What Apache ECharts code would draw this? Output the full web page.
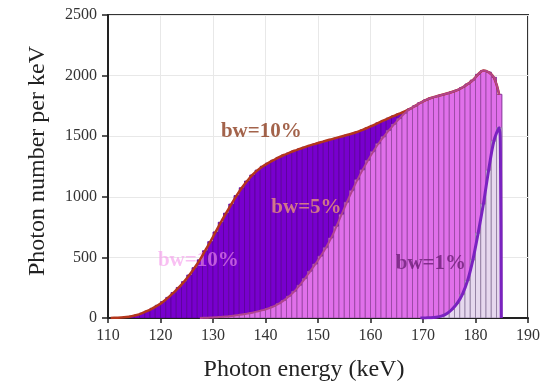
<!DOCTYPE html>
<html>
<head>
<meta charset="utf-8">
<script src="https://cdn.jsdelivr.net/npm/echarts@6/dist/echarts.min.js"></script>
<style>
html,body{margin:0;padding:0;background:#fff;}
#chart{width:550px;height:387px;}
</style>
</head>
<body>
<div id="chart"></div>
<script>
// Bin centres (keV), 1 keV wide bins
const energies = [
110.5,111.5,112.5,113.5,114.5,115.5,116.5,117.5,118.5,119.5,
120.5,121.5,122.5,123.5,124.5,125.5,126.5,127.5,128.5,129.5,
130.5,131.5,132.5,133.5,134.5,135.5,136.5,137.5,138.5,139.5,
140.5,141.5,142.5,143.5,144.5,145.5,146.5,147.5,148.5,149.5,
150.5,151.5,152.5,153.5,154.5,155.5,156.5,157.5,158.5,159.5,
160.5,161.5,162.5,163.5,164.5,165.5,166.5,167.5,168.5,169.5,
170.5,171.5,172.5,173.5,174.5,175.5,176.5,177.5,178.5,179.5,
180.5,181.5,182.5,183.5,184.5];

// Photon number per keV, bandwidth 10 %
const bw10 = [
0,2,4,8,15,25,40,58,80,105,
135,170,210,252,300,355,415,480,555,630,
710,790,865,940,1010,1075,1130,1180,1220,1252,
1278,1302,1325,1345,1362,1380,1395,1410,1424,1437,
1450,1462,1474,1486,1498,1510,1522,1536,1552,1570,
1590,1610,1630,1650,1668,1686,1704,1725,1750,1776,
1798,1815,1828,1840,1852,1865,1880,1902,1930,1962,
2010,2042,2028,1985,1845];

// bandwidth 5 %
const bw5 = [
0,0,0,0,0,0,0,0,0,0,
0,0,0,0,0,0,0,0,2,4,
6,9,12,17,22,28,36,44,54,65,
78,95,118,145,180,220,270,325,385,445,
510,580,660,755,855,955,1050,1140,1222,1300,
1372,1438,1495,1548,1598,1645,1690,1725,1750,1776,
1798,1815,1828,1840,1852,1865,1880,1902,1930,1962,
2010,2042,2028,1985,1845];

// bandwidth 1 %
const bw1 = [
0,0,0,0,0,0,0,0,0,0,
0,0,0,0,0,0,0,0,0,0,
0,0,0,0,0,0,0,0,0,0,
0,0,0,0,0,0,0,0,0,0,
0,0,0,0,0,0,0,0,0,0,
0,0,0,0,0,0,0,0,0,0,
1,2,6,15,35,70,120,195,310,480,
700,940,1220,1460,1570];
// sharp cut-off of the 1 % curve after its peak
const bw1Tail = [[184.75, 1350], [184.9, 0]];

const xTicks = [110,120,130,140,150,160,170,180,190];
const yTicks = [0,500,1000,1500,2000,2500];

// text annotations placed in data coordinates
const annotations = [
  {text:'bw=10%', at:[139.2,1536], color:'#8C3C1E'},
  {text:'bw=5%',  at:[147.8,912],  color:'#E8937A'},
  {text:'bw=1%',  at:[171.5,449],  color:'#6E1E78'},
  {text:'bw=10%', at:[127.2,474],  color:'rgba(245,150,235,0.75)'}
];

const FONT = "'Liberation Serif','Times New Roman',serif";

function barSeries(name, values, fill, stroke) {
  const data = [];
  energies.forEach((e, i) => { if (values[i] > 0) data.push([e, values[i]]); });
  return {
    type: 'custom', name: name, data: data, clip: true,
    renderItem: function (params, api) {
      const x = api.value(0), y = api.value(1);
      const p0 = api.coord([x - 0.5, y]);
      const p1 = api.coord([x + 0.5, 0]);
      return {
        type: 'rect',
        shape: {x: p0[0], y: p0[1], width: p1[0] - p0[0], height: p1[1] - p0[1]},
        style: {fill: fill, stroke: stroke, lineWidth: 0.8}
      };
    }
  };
}

function curve(values, fromIdx, extra) {
  const d = [];
  for (let i = fromIdx; i < energies.length; i++) d.push([energies[i], values[i]]);
  return d.concat(extra || []);
}

const chart = echarts.init(document.getElementById('chart'), null, {renderer: 'canvas'});
chart.setOption({
  animation: false,
  backgroundColor: '#ffffff',
  grid: {left: 108, right: 22, top: 15, bottom: 66, show: true, borderColor: '#333', borderWidth: 2},
  xAxis: {
    type: 'value', min: xTicks[0], max: xTicks[xTicks.length - 1], interval: 10,
    name: 'Photon energy (keV)', nameLocation: 'middle', nameGap: 40,
    nameTextStyle: {fontFamily: FONT, fontSize: 24, color: '#222', padding: [0, 28, 0, 0]},
    axisLine: {show: true, onZero: false, lineStyle: {color: '#222', width: 2}},
    axisTick: {show: true, length: 5, lineStyle: {color: '#222', width: 1.5}},
    axisLabel: {fontFamily: FONT, fontSize: 16, color: '#333', margin: 10},
    splitLine: {show: true, lineStyle: {color: '#e8e8e8', width: 1}}
  },
  yAxis: {
    type: 'value', min: yTicks[0], max: yTicks[yTicks.length - 1], interval: 500,
    name: 'Photon number per keV', nameLocation: 'middle', nameGap: 58,
    nameTextStyle: {fontFamily: FONT, fontSize: 24, color: '#222', padding: [0, 0, 0, 11]},
    axisLine: {show: true, lineStyle: {color: '#222', width: 2}},
    axisTick: {show: true, length: 6, lineStyle: {color: '#222', width: 1.5}},
    axisLabel: {fontFamily: FONT, fontSize: 16, color: '#333', margin: 11,
                formatter: function (v) { return String(v); }},
    splitLine: {show: true, lineStyle: {color: '#e8e8e8', width: 1}}
  },
  series: [
    barSeries('bw=10% bins', bw10, '#7800CE', '#5A0098'),
    barSeries('bw=5% bins', bw5, '#E070EA', '#96489E'),
    barSeries('bw=1% bins', bw1, '#E6D8EE', '#8C7A9C'),
    {type: 'line', name: 'bw=10%', data: curve(bw10, 0), smooth: 0.4, symbol: 'none',
     lineStyle: {color: '#B4361C', width: 2.5}},
    {type: 'line', name: 'bw=5%', data: curve(bw5, 17), smooth: 0.4, symbol: 'none',
     lineStyle: {color: '#B0448E', width: 2}},
    {type: 'line', name: 'bw=1%', data: curve(bw1, 59, bw1Tail), smooth: 0.3, symbol: 'none',
     lineStyle: {color: '#7A22C0', width: 3}},
    {type: 'scatter', name: 'labels', symbolSize: 0, silent: true,
     data: annotations.map(a => ({value: a.at, label: {formatter: a.text, color: a.color}})),
     label: {show: true, position: 'inside', fontFamily: FONT, fontWeight: 'bold', fontSize: 21}}
  ]
});
</script>
</body>
</html>
